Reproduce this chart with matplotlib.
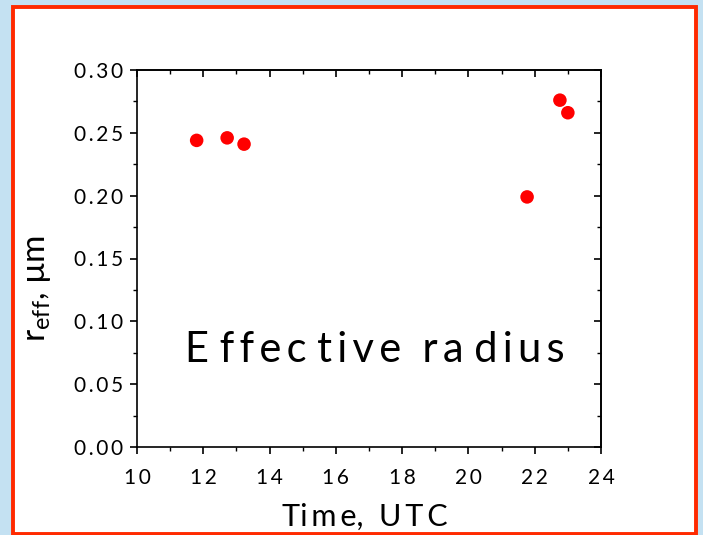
import matplotlib
matplotlib.use('Agg')
import matplotlib.pyplot as plt
from matplotlib.patches import Rectangle
from matplotlib.ticker import MultipleLocator

# Effective radius measurements
time_utc = [11.8, 12.72, 13.23, 21.77, 22.76, 23.0]
r_eff = [0.244, 0.246, 0.241, 0.199, 0.276, 0.266]

xticks = [10, 12, 14, 16, 18, 20, 22, 24]
yticks = [0.00, 0.05, 0.10, 0.15, 0.20, 0.25, 0.30]

TS = '\u2009'  # thin space, to mimic the loose letter spacing of the original


def spaced(s):
    return TS.join(s)


plt.rcParams['font.family'] = ['Lato', 'DejaVu Sans']

fig = plt.figure(figsize=(7.03, 5.35), dpi=100)
fig.patch.set_facecolor('#c4e1f2')

# white panel with red frame
frame = Rectangle((13 / 703, 1.5 / 535), 683 / 703, 527 / 535, transform=fig.transFigure,
                  facecolor='white', edgecolor='#ff2a00', linewidth=2.8, zorder=-5)
fig.patches.append(frame)

ax = fig.add_axes([137 / 703, 1 - 447 / 535, 464 / 703, 377 / 535])
ax.set_facecolor('white')
ax.scatter(time_utc, r_eff, s=95, color='#ff0000', edgecolor='none', zorder=3)

ax.set_xlim(10, 24)
ax.set_ylim(0, 0.30)
ax.set_xticks(xticks)
ax.set_xticklabels([spaced(str(v)) for v in xticks])
ax.set_yticks(yticks)
ax.set_yticklabels([spaced(f'{v:.2f}') for v in yticks])
ax.xaxis.set_minor_locator(MultipleLocator(1))
ax.yaxis.set_minor_locator(MultipleLocator(0.025))

ax.tick_params(axis='both', which='major', labelsize=15, length=5, width=1.2, color='black')
ax.tick_params(axis='both', which='minor', length=3, width=1.0)
ax.tick_params(axis='x', which='both', direction='out', top=False)
ax.tick_params(axis='y', which='both', direction='out', right=False)
ax.tick_params(axis='y', which='major', pad=5)
ax.tick_params(axis='x', which='major', pad=10)

# inward ticks on top and right
axt = ax.secondary_xaxis('top')
axt.set_xticks(xticks)
axt.xaxis.set_minor_locator(MultipleLocator(1))
axt.tick_params(which='both', direction='in', labeltop=False)
axt.tick_params(which='major', length=5, width=1.2)
axt.tick_params(which='minor', length=3, width=1.0)
axr = ax.secondary_yaxis('right')
axr.set_yticks(yticks)
axr.yaxis.set_minor_locator(MultipleLocator(0.025))
axr.tick_params(which='both', direction='in', labelright=False)
axr.tick_params(which='major', length=5, width=1.2)
axr.tick_params(which='minor', length=3, width=1.0)

for s in ax.spines.values():
    s.set_linewidth(1.2)
axt.spines['top'].set_linewidth(1.2)
axr.spines['right'].set_linewidth(1.2)

ax.set_ylabel(r'r$_{\mathregular{eff}}$, µm', fontsize=24)
ax.yaxis.set_label_coords(-0.18, 0.42)

fig.text(365 / 703, 1 - 526 / 535, 'Ti' + TS + 'm' + TS + 'e,  U' + TS + 'T' + TS + 'C',
         fontsize=22, ha='center', va='baseline')

label = 'E ' + spaced('ffec') + ' ' + spaced('tive') + '  ' + spaced('ra') + ' ' + spaced('dius')
ax.text(0.513, 0.257, label, transform=ax.transAxes, fontsize=30,
        ha='center', va='center')

fig.savefig('out.png', dpi=100, facecolor=fig.get_facecolor())
